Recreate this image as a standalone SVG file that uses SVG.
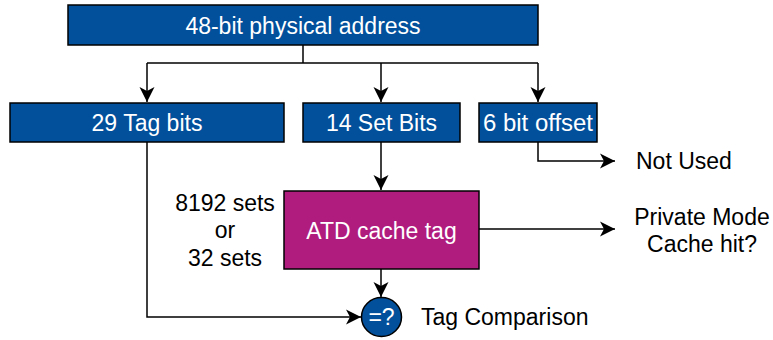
<svg xmlns="http://www.w3.org/2000/svg" width="773" height="340" viewBox="0 0 773 340">
<style>
.blue{fill:#02509c;stroke:#000;stroke-width:1.5}
.mag{fill:#af1c7e;stroke:#000;stroke-width:1.5}
.wt{fill:#fff;font-family:"Liberation Sans",Arial,sans-serif;font-size:23px;text-anchor:middle}
.bt{fill:#000;font-family:"Liberation Sans",Arial,sans-serif;font-size:23px;text-anchor:middle}
.ln{fill:none;stroke:#000;stroke-width:1.5}
</style>
<defs>
<marker id="ah" markerUnits="userSpaceOnUse" markerWidth="18" markerHeight="18" viewBox="0 0 18 18" refX="15" refY="9" orient="auto">
<path d="M0,1.5 L15,9 L0,16.5 L4,9 z" fill="#000"/>
</marker>
</defs>
<g id="connectors">
<path class="ln" d="M303,45 V63"/>
<path class="ln" d="M147,63 H538"/>
<path class="ln" d="M147,63 V102" marker-end="url(#ah)"/>
<path class="ln" d="M381,63 V102" marker-end="url(#ah)"/>
<path class="ln" d="M538,63 V102" marker-end="url(#ah)"/>
<path class="ln" d="M538,142 V161 H615" marker-end="url(#ah)"/>
<path class="ln" d="M381,142 V190" marker-end="url(#ah)"/>
<path class="ln" d="M479,229 H615" marker-end="url(#ah)"/>
<path class="ln" d="M381,269 V297" marker-end="url(#ah)"/>
<path class="ln" d="M147,142 V317 H361" marker-end="url(#ah)"/>
</g>
<g id="addr">
<rect class="blue" x="68" y="5" width="470" height="40"/>
<text class="wt" x="303" y="34">48-bit physical address</text>
</g>
<g id="tagbits">
<rect class="blue" x="10" y="103" width="274" height="39"/>
<text class="wt" x="147" y="131">29 Tag bits</text>
</g>
<g id="setbits">
<rect class="blue" x="303" y="103" width="157" height="39"/>
<text class="wt" x="381.5" y="131">14 Set Bits</text>
</g>
<g id="offset">
<rect class="blue" x="479" y="103" width="118" height="39"/>
<text class="wt" x="538" y="131" textLength="110" lengthAdjust="spacingAndGlyphs">6 bit offset</text>
</g>
<g id="notused">
<text class="bt" x="636" y="169" style="text-anchor:start">Not Used</text>
</g>
<g id="atd">
<rect class="mag" x="284" y="191" width="195" height="78"/>
<text class="wt" x="381.5" y="239">ATD cache tag</text>
</g>
<g id="sets">
<text class="bt" x="225" y="211">8192 sets</text>
<text class="bt" x="225" y="238">or</text>
<text class="bt" x="225" y="266">32 sets</text>
</g>
<g id="private">
<text class="bt" x="702" y="225">Private Mode</text>
<text class="bt" x="702" y="252">Cache hit?</text>
</g>
<g id="compare">
<ellipse class="blue" cx="381.5" cy="317" rx="20" ry="19.5"/>
<text class="wt" x="381.5" y="325">=?</text>
</g>
<g id="tagcmp">
<text class="bt" x="421" y="325" style="text-anchor:start">Tag Comparison</text>
</g>
</svg>
